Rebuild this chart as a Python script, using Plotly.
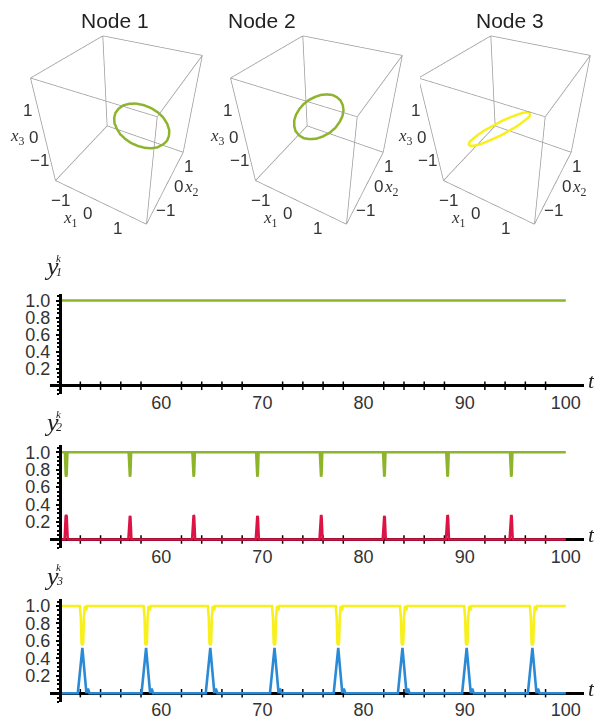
import plotly.graph_objects as go

# ---------------- data ----------------
# 3D limit cycles (estimated)
node1_x1 = [1.30, 1.27, 1.17, 1.02, 0.83, 0.60, 0.35, 0.10, -0.12, -0.32, -0.47, -0.57, -0.60, -0.57, -0.47, -0.32, -0.12, 0.10, 0.35, 0.60, 0.83, 1.02, 1.17, 1.27, 1.30]
node1_x2 = [0.50, 0.54, 0.58, 0.61, 0.63, 0.64, 0.65, 0.64, 0.63, 0.61, 0.58, 0.54, 0.50, 0.46, 0.43, 0.39, 0.37, 0.36, 0.35, 0.36, 0.37, 0.39, 0.43, 0.46, 0.50]
node1_x3 = [-0.38, -0.18, 0.01, 0.18, 0.30, 0.38, 0.40, 0.38, 0.30, 0.18, 0.01, -0.18, -0.38, -0.58, -0.76, -0.93, -1.05, -1.13, -1.15, -1.13, -1.05, -0.93, -0.76, -0.58, -0.38]

node2_x1 = [-0.25, -0.07, 0.10, 0.24, 0.36, 0.43, 0.45, 0.43, 0.36, 0.24, 0.10, -0.07, -0.25, -0.43, -0.60, -0.74, -0.86, -0.93, -0.95, -0.93, -0.86, -0.74, -0.60, -0.43, -0.25]
node2_x2 = [1.10, 1.07, 0.98, 0.84, 0.65, 0.43, 0.20, -0.03, -0.25, -0.44, -0.58, -0.67, -0.70, -0.67, -0.58, -0.44, -0.25, -0.03, 0.20, 0.43, 0.65, 0.84, 0.98, 1.07, 1.10]
node2_x3 = [0.33, 0.31, 0.29, 0.25, 0.20, 0.14, 0.08, 0.01, -0.05, -0.10, -0.14, -0.16, -0.18, -0.16, -0.14, -0.10, -0.05, 0.01, 0.08, 0.14, 0.20, 0.25, 0.29, 0.31, 0.33]

node3_x1 = [0.31, 0.30, 0.25, 0.18, 0.10, -0.01, -0.12, -0.23, -0.34, -0.42, -0.49, -0.54, -0.55, -0.54, -0.49, -0.42, -0.34, -0.23, -0.12, -0.01, 0.10, 0.18, 0.25, 0.30, 0.31]
node3_x2 = [0.69, 0.66, 0.55, 0.39, 0.18, -0.07, -0.34, -0.61, -0.86, -1.07, -1.23, -1.33, -1.37, -1.33, -1.23, -1.07, -0.86, -0.61, -0.34, -0.07, 0.18, 0.39, 0.55, 0.66, 0.69]
node3_x3 = [0.00, 0.08, 0.14, 0.20, 0.24, 0.26, 0.28, 0.26, 0.24, 0.20, 0.14, 0.08, 0.00, -0.08, -0.14, -0.20, -0.24, -0.26, -0.28, -0.26, -0.24, -0.20, -0.14, -0.08, 0.00]

node_titles = ["Node 1", "Node 2", "Node 3"]
x1_range = [-1.6, 1.6]
x2_range = [-1.6, 1.6]
x3_range = [-2.0, 2.0]
tick_vals3d = [-1, 0, 1]
tick_text3d = ["\u22121", "0", "1"]

# time series
t_start, t_end = 50, 100
y1_level = 1.0

# node 2 events (green dips / red spikes)
y2_event_t = [50.6, 56.9, 63.2, 69.5, 75.8, 82.05, 88.3, 94.6]
y2_green_min = [0.72, 0.72, 0.72, 0.72, 0.72, 0.72, 0.72, 0.72]
y2_red_peak = [0.28, 0.27, 0.28, 0.27, 0.28, 0.27, 0.28, 0.28]

# node 3 events (yellow dips / blue spikes)
y3_event_t = [52.2, 58.5, 64.85, 71.2, 77.5, 83.85, 90.2, 96.7]
y3_yellow_min = [0.55, 0.55, 0.55, 0.55, 0.55, 0.55, 0.55, 0.55]
y3_blue_peak = [0.52, 0.52, 0.52, 0.52, 0.52, 0.52, 0.52, 0.52]

# pulse profiles (time offset, fraction of depth)
dip_narrow_dt = [-0.12, -0.05, 0.0, 0.05, 0.12]
dip_narrow_f = [0.0, 0.9, 1.0, 0.9, 0.0]
dip_wide_dt = [-0.25, -0.15, -0.08, 0.0, 0.08, 0.15, 0.25, 0.38, 0.46, 0.6]
dip_wide_f = [0.0, 0.3, 0.95, 1.0, 0.95, 0.3, 0.0, 0.12, 0.0, 0.0]
spike_narrow_dt = [-0.15, -0.05, 0.0, 0.05, 0.15]
spike_narrow_f = [0.0, 0.95, 1.0, 0.95, 0.0]
spike_wide_dt = [-0.45, 0.0, 0.4, 0.55, 0.7, 0.85]
spike_wide_f = [0.0, 1.0, 0.0, 0.1, 0.0, 0.0]

x_ticks = [60, 70, 80, 90, 100]
x_minor_ticks = [52, 54, 56, 58, 62, 64, 66, 68, 72, 74, 76, 78, 82, 84, 86, 88, 92, 94, 96, 98]
y_ticks = [0.2, 0.4, 0.6, 0.8, 1.0]
y_ticktext = ["0.2", "0.4", "0.6", "0.8", "1.0"]

GREEN = "#8db42a"
YELLOW = "#f7f01c"
RED = "#dc1446"
BLUE = "#2b8ad6"
TXT = "#333333"

# page body has an 8px margin: the figure is placed at (8, 8)
OFF = 8
W, H = 602 - OFF, 720 - OFF


def px(x):
    return (x - OFF) / W


def py(y):
    return 1 - (y - OFF) / H


def pulse_series(events, depths, base, dts, fracs, sign):
    ts, ys = [t_start], [base]
    for te, d in zip(events, depths):
        for dt, f in zip(dts, fracs):
            tt = te + dt
            if t_start <= tt <= t_end:
                ts.append(tt)
                ys.append(base + sign * f * abs(d - base))
    ts.append(t_end)
    ys.append(base)
    return ts, ys


fig = go.Figure()

# ---------- 3D boxes ----------
orbits = [(node1_x1, node1_x2, node1_x3, GREEN),
          (node2_x1, node2_x2, node2_x3, GREEN),
          (node3_x1, node3_x2, node3_x3, YELLOW)]
corners = [(a, b, c) for a in x1_range for b in x2_range for c in x3_range]
ex, ey, ez = [], [], []
for i in range(8):
    for j in range(i + 1, 8):
        diff = sum(1 for k in range(3) if corners[i][k] != corners[j][k])
        if diff == 1:
            ex += [corners[i][0], corners[j][0], None]
            ey += [corners[i][1], corners[j][1], None]
            ez += [corners[i][2], corners[j][2], None]

tickfont3d = dict(family="Liberation Sans, Arial", size=17, color=TXT)
titlefont3d = dict(family="Liberation Serif, Times New Roman", size=17, color=TXT)

scene_dom_x = [[24, 222], [224, 422], [420, 602]]
scene_dom_y = [12, 230]
for i, (ox, oy, oz, col) in enumerate(orbits):
    sname = "scene" if i == 0 else f"scene{i+1}"
    fig.add_trace(go.Scatter3d(x=ex, y=ey, z=ez, mode="lines",
                               line=dict(color="#9a9a9a", width=1.5),
                               hoverinfo="skip", showlegend=False, scene=sname))
    fig.add_trace(go.Scatter3d(x=ox, y=oy, z=oz, mode="lines",
                               line=dict(color=col, width=5),
                               hoverinfo="skip", showlegend=False, scene=sname))
    ax_common = dict(showbackground=False, showgrid=False,
                     zeroline=False, showline=False, showspikes=False,
                     showticklabels=False, ticks="", title=dict(text=""))
    mid = dict(showarrow=False, xanchor="center", yanchor="middle")
    lo1, hi1 = x1_range
    lo2, hi2 = x2_range
    lo3, hi3 = x3_range
    ann = []
    for v, tx in zip(tick_vals3d, tick_text3d):
        ann.append(dict(mid, x=v, y=lo2, z=lo3, text=tx, yshift=-13, xshift=-10, font=tickfont3d))
        ann.append(dict(mid, x=hi1, y=v, z=lo3, text=tx, xshift=11, yshift=-3, font=tickfont3d))
        ann.append(dict(mid, x=lo1, y=lo2, z=v, text=tx, xshift=-11, font=tickfont3d))
    ann.append(dict(mid, x=0, y=lo2, z=lo3, text="<i>x</i><sub>1</sub>",
                    yshift=-18, xshift=-27, font=titlefont3d))
    ann.append(dict(mid, x=hi1, y=0, z=lo3, text="<i>x</i><sub>2</sub>",
                    xshift=24, yshift=-4, font=titlefont3d))
    ann.append(dict(mid, x=lo1, y=lo2, z=0, text="<i>x</i><sub>3</sub>",
                    xshift=-27, font=titlefont3d))
    fig.layout[sname] = dict(
        domain=dict(x=[px(scene_dom_x[i][0]), px(scene_dom_x[i][1])],
                    y=[py(scene_dom_y[1]), py(scene_dom_y[0])]),
        xaxis=dict(ax_common, range=x1_range),
        yaxis=dict(ax_common, range=x2_range),
        zaxis=dict(ax_common, range=x3_range),
        aspectmode="manual", aspectratio=dict(x=1, y=1, z=1.15),
        camera=dict(eye=dict(x=0.91, y=-1.68, z=1.49), up=dict(x=0, y=0, z=1),
                    center=dict(x=0, y=0, z=0)),
        annotations=ann,
    )
    fig.add_annotation(text=node_titles[i], xref="paper", yref="paper",
                       x=px([115, 262, 510][i]), y=py(18),
                       showarrow=False, xanchor="center", yanchor="middle",
                       font=dict(family="Liberation Sans, Arial", size=21, color="#222"))

# ---------- time series ----------
y2g_t, y2g_v = pulse_series(y2_event_t, y2_green_min, 1.0, dip_narrow_dt, dip_narrow_f, -1)
y2r_t, y2r_v = pulse_series(y2_event_t, y2_red_peak, 0.0, spike_narrow_dt, spike_narrow_f, +1)
y3y_t, y3y_v = pulse_series(y3_event_t, y3_yellow_min, 1.0, dip_wide_dt, dip_wide_f, -1)
y3b_t, y3b_v = pulse_series(y3_event_t, y3_blue_peak, 0.0, spike_wide_dt, spike_wide_f, +1)

panels = [
    [([t_start, t_end], [y1_level, y1_level], GREEN)],
    [(y2g_t, y2g_v, GREEN), (y2r_t, y2r_v, RED)],
    [(y3y_t, y3y_v, YELLOW), (y3b_t, y3b_v, BLUE)],
]
zero_px = [386, 541, 696]
unit_px = [86, 88, 88]
yr = [-0.1, 1.08]
xr = [49, 101.8]
x_dom = [px(50), px(584)]
ylabel_sub = ["1", "2", "3"]

for p, traces in enumerate(panels):
    suffix = "" if p == 0 else str(p + 1)
    # minor tick dots on the time axis
    fig.add_trace(go.Scatter(x=x_minor_ticks, y=[0] * len(x_minor_ticks), mode="markers",
                             marker=dict(symbol="line-ns", size=6, line=dict(width=1.5, color="black")),
                             hoverinfo="skip", showlegend=False,
                             xaxis="x" + suffix, yaxis="y" + suffix))
    for tt, vv, col in traces:
        fig.add_trace(go.Scatter(x=tt, y=vv, mode="lines", line=dict(color=col, width=2.6),
                                 hoverinfo="skip", showlegend=False,
                                 xaxis="x" + suffix, yaxis="y" + suffix))
    z = zero_px[p]
    u = unit_px[p]
    bottom = z - yr[0] * u
    top = z - yr[1] * u
    fig.layout["xaxis" + suffix] = dict(
        domain=x_dom, range=xr, anchor="free", position=py(z),
        showline=False, showgrid=False, zeroline=False,
        tickvals=x_ticks, ticks="",
        tickfont=dict(family="Liberation Sans, Arial", size=18, color=TXT),
        ticklabelstandoff=4,
    )
    fig.layout["yaxis" + suffix] = dict(
        domain=[py(bottom), py(top)], range=yr, anchor="free", position=px(60),
        showline=True, linecolor="black", linewidth=3, showgrid=False,
        zeroline=True, zerolinecolor="black", zerolinewidth=3,
        tickvals=y_ticks, ticktext=y_ticktext,
        ticks="outside", ticklen=3, tickwidth=2, tickcolor="black",
        minor=dict(dtick=0.05, tick0=0, ticks="outside", ticklen=2, tickwidth=1.5, tickcolor="black"),
        tickfont=dict(family="Liberation Sans, Arial", size=18, color=TXT),
        ticklabelstandoff=2,
    )
    # axis labels
    ylab_y = z - 120 if p == 0 else z - 118
    fig.add_annotation(text="<i>y</i>", xref="paper", yref="paper", x=px(51), y=py(ylab_y),
                       showarrow=False, xanchor="center", yanchor="middle",
                       font=dict(family="Liberation Serif, Times New Roman", size=26, color="#222"))
    fig.add_annotation(text="<i>k</i>", xref="paper", yref="paper", x=px(59), y=py(ylab_y - 9),
                       showarrow=False, xanchor="center", yanchor="middle",
                       font=dict(family="Liberation Serif, Times New Roman", size=11, color="#222"))
    fig.add_annotation(text="<i>" + ylabel_sub[p] + "</i>", xref="paper", yref="paper", x=px(59), y=py(ylab_y + 5),
                       showarrow=False, xanchor="center", yanchor="middle",
                       font=dict(family="Liberation Serif, Times New Roman", size=12, color="#222"))
    fig.add_annotation(text="<i>t</i>", xref="paper", yref="paper", x=px(591), y=py(z - 5),
                       showarrow=False, xanchor="center", yanchor="middle",
                       font=dict(family="Liberation Serif, Times New Roman", size=22, color="#222"))

fig.update_layout(width=W, height=H, margin=dict(l=0, r=0, t=0, b=0),
                  paper_bgcolor="white", plot_bgcolor="white", showlegend=False)

fig.write_html("out.html")
